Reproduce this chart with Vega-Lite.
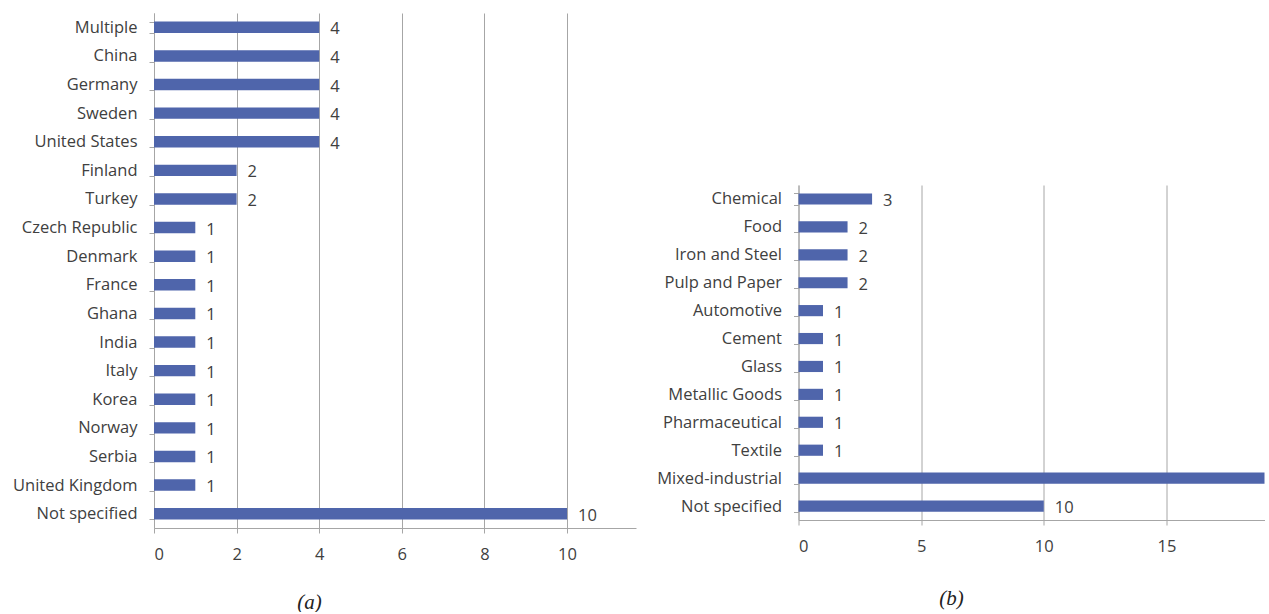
{
  "$schema": "https://vega.github.io/schema/vega-lite/v6.json",
  "background": "white",
  "padding": {"left": 0, "top": 5, "right": 4, "bottom": 0},
  "spacing": 20.5,
  "config": {
    "font": "Open Sans",
    "view": {"stroke": null},
    "axis": {
      "labelFont": "Open Sans",
      "labelFontSize": 16.5,
      "labelColor": "#404040",
      "domainColor": "#a6a6a6",
      "tickColor": "#a6a6a6",
      "gridColor": "#a6a6a6",
      "tickSize": 5,
      "titleFont": "Liberation Serif",
      "titleFontStyle": "italic",
      "titleFontWeight": "normal",
      "titleFontSize": 21,
      "titleColor": "#222222"
    }
  },
  "hconcat": [
    {
      "width": 482,
      "height": 515,
      "data": {
        "values": [
          {"country": "Multiple", "count": 4},
          {"country": "China", "count": 4},
          {"country": "Germany", "count": 4},
          {"country": "Sweden", "count": 4},
          {"country": "United States", "count": 4},
          {"country": "Finland", "count": 2},
          {"country": "Turkey", "count": 2},
          {"country": "Czech Republic", "count": 1},
          {"country": "Denmark", "count": 1},
          {"country": "France", "count": 1},
          {"country": "Ghana", "count": 1},
          {"country": "India", "count": 1},
          {"country": "Italy", "count": 1},
          {"country": "Korea", "count": 1},
          {"country": "Norway", "count": 1},
          {"country": "Serbia", "count": 1},
          {"country": "United Kingdom", "count": 1},
          {"country": "Not specified", "count": 10}
        ]
      },
      "encoding": {
        "y": {
          "field": "country",
          "type": "nominal",
          "sort": null,
          "scale": {"paddingInner": 0.6, "paddingOuter": 0.3},
          "axis": {
            "title": null,
            "tickBand": "extent",
            "labelPadding": 12,
            "minExtent": 153.5,
            "maxExtent": 153.5,
            "grid": false
          }
        },
        "x": {
          "field": "count",
          "type": "quantitative",
          "scale": {"domain": [0, 11.67], "nice": false},
          "axis": {
            "values": [0, 2, 4, 6, 8, 10],
            "grid": true,
            "labelPadding": 13.5,
            "title": "(a)",
            "titleX": 155,
            "titleY": 74,
            "titleAlign": "center",
            "titleBaseline": "middle"
          }
        }
      },
      "layer": [
        {"mark": {"type": "bar", "color": "#4F65AB"}},
        {
          "mark": {"type": "text", "align": "left", "baseline": "middle", "dx": 11, "dy": 2, "fontSize": 16.5, "color": "#404040", "font": "Open Sans"},
          "encoding": {"text": {"field": "count", "type": "quantitative"}}
        }
      ]
    },
    {
      "spacing": 0,
      "vconcat": [
        {
          "width": 466,
          "height": 164,
          "data": {"values": []},
          "mark": "point"
        },
        {
          "width": 466,
          "height": 335,
          "data": {
            "values": [
              {"sector": "Chemical", "count": 3},
              {"sector": "Food", "count": 2},
              {"sector": "Iron and Steel", "count": 2},
              {"sector": "Pulp and Paper", "count": 2},
              {"sector": "Automotive", "count": 1},
              {"sector": "Cement", "count": 1},
              {"sector": "Glass", "count": 1},
              {"sector": "Metallic Goods", "count": 1},
              {"sector": "Pharmaceutical", "count": 1},
              {"sector": "Textile", "count": 1},
              {"sector": "Mixed-industrial", "count": 19},
              {"sector": "Not specified", "count": 10}
            ]
          },
          "encoding": {
            "y": {
              "field": "sector",
              "type": "nominal",
              "sort": null,
              "scale": {"paddingInner": 0.6, "paddingOuter": 0.3},
              "axis": {
                "title": null,
                "tickBand": "extent",
                "labelPadding": 12,
                "minExtent": 140,
                "maxExtent": 140,
                "grid": false
              }
            },
            "x": {
              "field": "count",
              "type": "quantitative",
              "scale": {"domain": [0, 19], "nice": false},
              "axis": {
                "values": [0, 5, 10, 15],
                "grid": true,
                "labelPadding": 13.5,
                "title": "(b)",
                "titleX": 152.5,
                "titleY": 78,
                "titleAlign": "center",
                "titleBaseline": "middle"
              }
            }
          },
          "layer": [
            {"mark": {"type": "bar", "color": "#4F65AB"}},
            {
              "transform": [{"filter": "datum.count <= 15"}],
              "mark": {"type": "text", "align": "left", "baseline": "middle", "dx": 11, "dy": 2, "fontSize": 16.5, "color": "#404040", "font": "Open Sans"},
              "encoding": {"text": {"field": "count", "type": "quantitative"}}
            }
          ]
        }
      ]
    }
  ]
}
